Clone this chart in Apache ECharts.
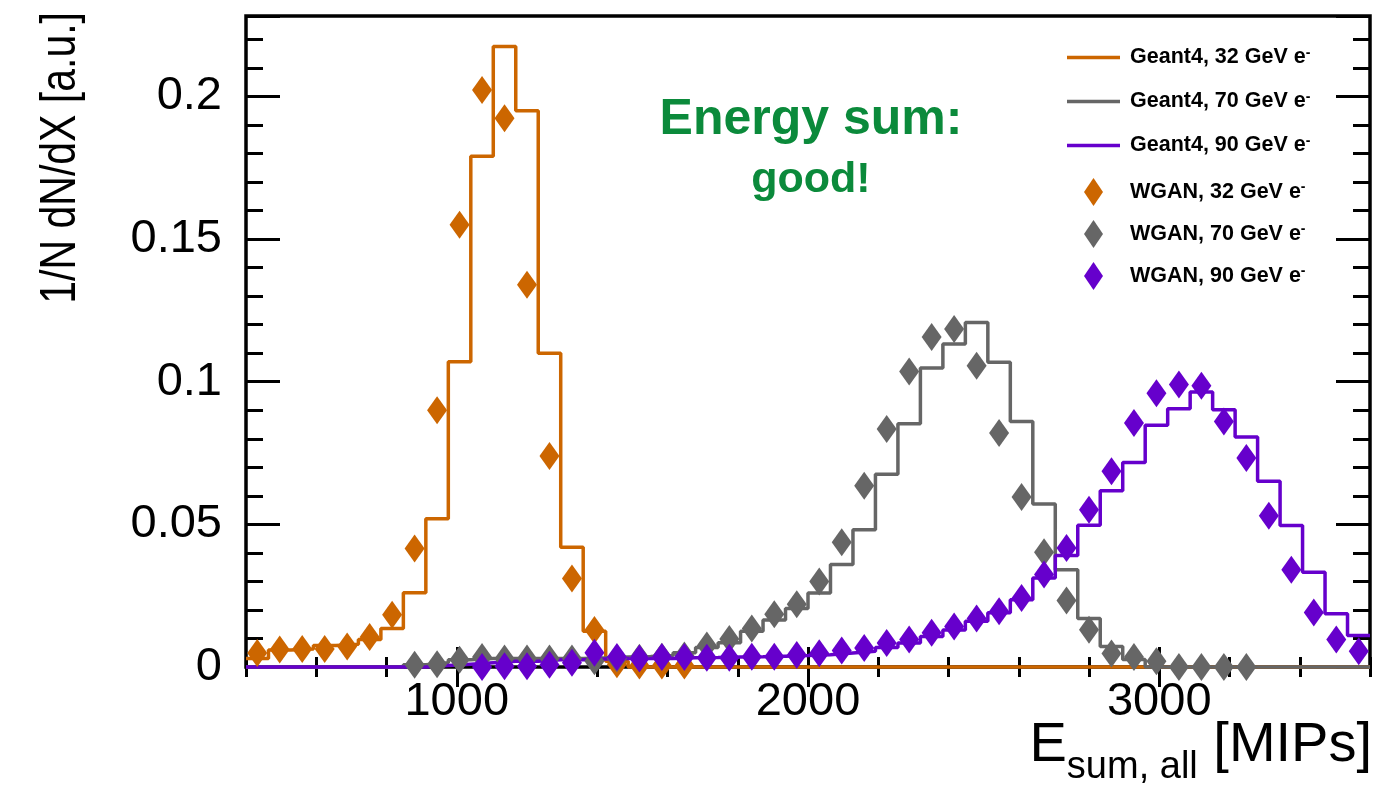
<!DOCTYPE html>
<html>
<head>
<meta charset="utf-8">
<script src="https://cdn.jsdelivr.net/npm/echarts@6/dist/echarts.min.js"></script>
<style>
  html, body { margin: 0; padding: 0; background: #fff; }
  #chart { width: 1376px; height: 800px; }
</style>
</head>
<body>
<div id="chart"></div>
<script>
// Histogram binning: 50 bins of 64 MIPs from 400 to 3600
const binLow = 400;
const binWidth = 64;

// Geant4 reference histograms (normalised), one value per bin
const g4_32 = [0.003, 0.006, 0.0063, 0.0075, 0.008, 0.0096, 0.0135, 0.026, 0.052, 0.107,
  0.179, 0.2175, 0.195, 0.11, 0.042, 0.0125, 0.002, 0, 0, 0,
  0, 0, 0, 0, 0, 0, 0, 0, 0, 0,
  0, 0, 0, 0, 0, 0, 0, 0, 0, 0,
  0, 0, 0, 0, 0, 0, 0, 0, 0, 0];
const g4_70 = [0, 0, 0, 0, 0, 0, 0, 0.0008, 0.0015, 0.0025,
  0.003, 0.003, 0.003, 0.003, 0.003, 0.0032, 0.0035, 0.0037, 0.004, 0.005,
  0.0068, 0.0085, 0.0125, 0.0165, 0.0205, 0.0259, 0.0359, 0.0481, 0.0676, 0.0853,
  0.1048, 0.1132, 0.1208, 0.1068, 0.0861, 0.0571, 0.0341, 0.017, 0.0072, 0.0026,
  0, 0, 0, 0, 0, 0, 0, 0, 0, 0];
const g4_90 = [0, 0, 0, 0, 0, 0, 0, 0, 0.0005, 0.001,
  0.0015, 0.002, 0.002, 0.0025, 0.0025, 0.0028, 0.003, 0.003, 0.003, 0.0032,
  0.0033, 0.0035, 0.0036, 0.0038, 0.004, 0.0043, 0.0049, 0.0055, 0.0068, 0.0084,
  0.0107, 0.013, 0.016, 0.019, 0.0236, 0.0312, 0.0391, 0.0497, 0.0618, 0.0717,
  0.0847, 0.0905, 0.0964, 0.0902, 0.0806, 0.0651, 0.0496, 0.0332, 0.0187, 0.011];

// WGAN generated showers, same binning (null = bin not drawn)
const wgan_32 = [0.0049, 0.0061, 0.0063, 0.0063, 0.0072, 0.0105, 0.0183, 0.0415, 0.09, 0.155,
  0.2023, 0.1924, 0.134, 0.074, 0.031, 0.013, 0.001, 0.0005, 0.0005, 0.0005,
  null, null, null, null, null, null, null, null, null, null,
  null, null, null, null, null, null, null, null, null, null,
  null, null, null, null, null, null, null, null, null, null];
const wgan_70 = [null, null, null, null, null, null, null, 0.0008, 0.001, 0.0025,
  0.0035, 0.003, 0.003, 0.003, 0.003, 0.002, 0.003, 0.0032, 0.0036, 0.004,
  0.0075, 0.0098, 0.0135, 0.0185, 0.022, 0.030, 0.0437, 0.0635, 0.0834, 0.1036,
  0.1157, 0.1185, 0.1056, 0.082, 0.0596, 0.0402, 0.0233, 0.0131, 0.0047, 0.0035,
  0.002, 0, 0, 0, 0, null, null, null, null, null];
const wgan_90 = [null, null, null, null, null, null, null, null, null, null,
  0, 0.0003, 0.0003, 0.0008, 0.0015, 0.005, 0.0035, 0.003, 0.0035, 0.0035,
  0.0032, 0.0032, 0.0036, 0.0036, 0.0042, 0.0048, 0.0058, 0.0067, 0.0084, 0.0096,
  0.012, 0.0142, 0.017, 0.0195, 0.0242, 0.0324, 0.0417, 0.0551, 0.0686, 0.0855,
  0.096, 0.099, 0.0986, 0.0861, 0.0733, 0.053, 0.0341, 0.0191, 0.0096, 0.0055];

const legendG4 = ['Geant4, 32 GeV e-', 'Geant4, 70 GeV e-', 'Geant4, 90 GeV e-'];
const legendWGAN = ['WGAN, 32 GeV e-', 'WGAN, 70 GeV e-', 'WGAN, 90 GeV e-'];
const xMajorTicks = [1000, 2000, 3000];

const cOrange = '#cc6600';
const cGray = '#666666';
const cPurple = '#6600cc';

// step outline: one point per lower bin edge plus the closing upper edge
function histOutline(vals) {
  const pts = vals.map((v, k) => [binLow + k * binWidth, v]);
  pts.push([binLow + vals.length * binWidth, vals[vals.length - 1]]);
  return pts;
}
// markers at bin centres
function binPoints(vals) {
  const pts = [];
  vals.forEach((v, k) => { if (v !== null) pts.push([binLow + (k + 0.5) * binWidth, v]); });
  return pts;
}

const FONT = "'Liberation Sans', Arial, Helvetica, sans-serif";
const tickStyle = { color: '#000', width: 3 };

function xAx(position, opts) {
  return Object.assign({
    type: 'value', position: position, min: 400, max: 3600, interval: 200,
    axisLine: { show: false }, splitLine: { show: false },
    axisLabel: { show: false },
    axisTick: { show: true, inside: true, length: 10, lineStyle: tickStyle }
  }, opts);
}
function yAx(position, opts) {
  return Object.assign({
    type: 'value', position: position, min: 0, max: 0.2282, interval: 0.01,
    axisLine: { show: false }, splitLine: { show: false },
    axisLabel: { show: false },
    axisTick: { show: true, inside: true, length: 17, lineStyle: tickStyle }
  }, opts);
}

const isMajorY = v => Math.abs(v * 20 - Math.round(v * 20)) < 1e-6 && v <= 0.2 + 1e-9;

const legendRich = {
  t: { fontFamily: FONT, fontWeight: 'bold', fontSize: 21.5, lineHeight: 24, color: '#000' },
  s: { fontFamily: FONT, fontWeight: 'bold', fontSize: 14, lineHeight: 14, color: '#000', padding: [0, 0, 9, 0] }
};

const option = {
  animation: false,
  backgroundColor: '#fff',
  grid: { left: 246, right: 6, top: 16, bottom: 133, show: true, borderColor: '#000', borderWidth: 3.5, backgroundColor: 'transparent' },
  title: {
    text: 'Energy sum:',
    subtext: 'good!',
    left: 806, top: 90, textAlign: 'center', itemGap: 14,
    textStyle: { color: '#0b8a3b', fontFamily: FONT, fontWeight: 'bold', fontSize: 50 },
    subtextStyle: { color: '#0b8a3b', fontFamily: FONT, fontWeight: 'bold', fontSize: 43 }
  },
  xAxis: [
    xAx('bottom', {
      axisLabel: {
        show: true, margin: 12, color: '#000', fontFamily: FONT, fontSize: 47,
        formatter: v => (v % 1000 === 0 ? String(v) : '')
      }
    }),
    xAx('bottom', { axisTick: { show: true, inside: true, length: 20, lineStyle: tickStyle, customValues: xMajorTicks } }),
    xAx('top'),
    xAx('top', { axisTick: { show: true, inside: true, length: 20, lineStyle: tickStyle, customValues: xMajorTicks } })
  ],
  yAxis: [
    yAx('left', {
      axisLabel: {
        show: true, margin: 24, color: '#000', fontFamily: FONT, fontSize: 47,
        formatter: v => (isMajorY(v) ? String(Math.round(v * 100) / 100) : '')
      }
    }),
    yAx('left', { interval: 0.05, axisTick: { show: true, inside: true, length: 34, lineStyle: tickStyle } }),
    yAx('right'),
    yAx('right', { interval: 0.05, axisTick: { show: true, inside: true, length: 34, lineStyle: tickStyle } })
  ],
  legend: [
    {
      data: legendG4, orient: 'vertical', left: 1067, top: 46, padding: 0,
      icon: 'rect', itemWidth: 53, itemHeight: 3.5, itemGap: 21, selectedMode: false,
      formatter: n => '{t|' + n.slice(0, -1) + '}{s|-}',
      textStyle: { padding: [0, 0, 0, 5], rich: legendRich }
    },
    {
      data: legendWGAN, orient: 'vertical', left: 1084, top: 178, padding: 0,
      itemWidth: 19, itemHeight: 28, itemGap: 14, selectedMode: false, icon: 'diamond',
      formatter: n => '{t|' + n.slice(0, -1) + '}{s|-}',
      textStyle: { padding: [0, 0, 0, 22], rich: legendRich }
    }
  ],
  graphic: [
    {
      type: 'text', x: 61, y: 12, rotation: Math.PI / 2, scaleX: 0.82,
      style: { text: '1/N dN/dX [a.u.]', font: '50px ' + FONT, fill: '#000', align: 'right', verticalAlign: 'middle' }
    },
    {
      type: 'text', x: 1372, y: 716,
      style: {
        text: '{m|E}{s|sum, all}{m| [MIPs]}', align: 'right', verticalAlign: 'top', fill: '#000',
        rich: {
          m: { fontFamily: FONT, fontSize: 56, lineHeight: 60, fill: '#000' },
          s: { fontFamily: FONT, fontSize: 38, lineHeight: 40, padding: [43, 0, 0, 0], fill: '#000' }
        }
      }
    }
  ],
  series: [
    { name: legendG4[0], type: 'line', step: 'end', symbol: 'none', clip: false, data: histOutline(g4_32), color: cOrange, lineStyle: { color: cOrange, width: 3.5 }, z: 3 },
    { name: legendG4[1], type: 'line', step: 'end', symbol: 'none', clip: false, data: histOutline(g4_70), color: cGray, lineStyle: { color: cGray, width: 3.5 }, z: 3 },
    { name: legendG4[2], type: 'line', step: 'end', symbol: 'none', clip: false, data: histOutline(g4_90), color: cPurple, lineStyle: { color: cPurple, width: 3.5 }, z: 3 },
    { name: legendWGAN[0], type: 'scatter', symbol: 'diamond', symbolSize: [20, 28], clip: false, data: binPoints(wgan_32), itemStyle: { color: cOrange, opacity: 1 }, z: 4 },
    { name: legendWGAN[1], type: 'scatter', symbol: 'diamond', symbolSize: [20, 28], clip: false, data: binPoints(wgan_70), itemStyle: { color: cGray, opacity: 1 }, z: 4 },
    { name: legendWGAN[2], type: 'scatter', symbol: 'diamond', symbolSize: [20, 28], clip: false, data: binPoints(wgan_90), itemStyle: { color: cPurple, opacity: 1 }, z: 4 }
  ]
};

const chart = echarts.init(document.getElementById('chart'), null, { renderer: 'canvas' });
chart.setOption(option);
</script>
</body>
</html>
